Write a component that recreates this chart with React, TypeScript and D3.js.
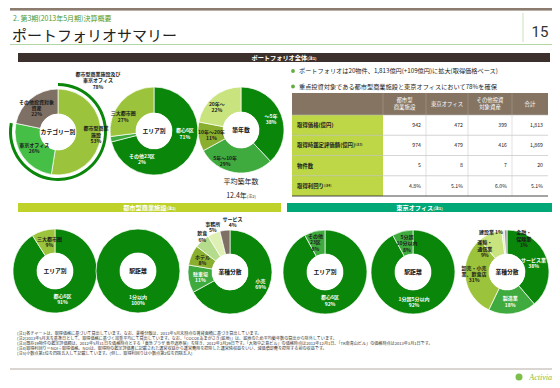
import React from "react";
import * as d3 from "d3";

const FONT = '"Noto Sans CJK JP", "Noto Sans", sans-serif';

// colours
const DARK = "#0a860a";
const MID = "#3fab3f";
const BRIGHT = "#46bf46";
const OLIVE = "#9cc33c";
const OLIVE2 = "#8aae2e";
const PALE = "#c9e37f";
const PALE2 = "#dff0b5";
const BROWN = "#7e7065";

// portfolio overall
const categoryNames = ["都市型商業\n施設", "東京オフィス", "その他投資対象\n資産"];
const categoryShares = [53, 26, 22];
const focusShare = 78;

const areaNames = ["都心6区", "その他23区", "三大都市圏"];
const areaShares = [71, 2, 27];

const ageNames = ["～5年", "5年～10年", "10年～20年", "20年～"];
const ageShares = [38, 29, 11, 22];
const avgAge = "12.4年";

// urban retail
const retailAreaNames = ["都心6区", "三大都市圏"];
const retailAreaShares = [91, 9];
const retailStationNames = ["1分以内"];
const retailStationShares = [100];
const retailTenantNames = ["小売", "駐車場", "ホテル", "飲食", "事務所", "サービス"];
const retailTenantShares = [69, 11, 8, 6, 5, 4];

// tokyo office
const officeAreaNames = ["都心6区", "その他\n23区"];
const officeAreaShares = [92, 8];
const officeStationNames = ["1分超5分以内", "5分超\n10分以内"];
const officeStationShares = [92, 8];
const officeTenantNames = ["サービス業", "製造業", "卸売・小売\n業、飲食店", "運輸・\n通信業", "建設業", "金融・\n保険業"];
const officeTenantShares = [38, 18, 31, 9, 1, 1];

// table
const tableColumns = ["都市型\n商業施設", "東京オフィス", "その他投資\n対象資産", "合計"];
const tableRows = ["取得価格(億円)", "取得時鑑定評価額(億円)", "物件数", "取得利回り"];
const tableNotes = ["", "(注3)", "", "(注4)"];
const acquisitionPrice = ["942", "472", "399", "1,813"];
const appraisalValue = ["974", "479", "416", "1,869"];
const propertyCount = ["5", "8", "7", "20"];
const acquisitionYield = ["4.8%", "5.1%", "6.0%", "5.1%"];
const tableValues = [acquisitionPrice, appraisalValue, propertyCount, acquisitionYield];

const bullets = [
  "ポートフォリオは20物件、1,813億円(+109億円)に拡大(取得価格ベース)",
  "重点投資対象である都市型商業施設と東京オフィスにおいて78%を確保",
];

const footnotes = [
  "(注1)各チャートは、取得価格に基づいて算出しています。なお、業種分散は、2013年5月末時点の賃貸面積に基づき算出しています。",
  "(注2)2013年5月末を基準日として、取得価格に基づく加重平均にて算出しています。なお、「COCOEあまがさき(底地)」は、底地のため平均築年数の算出から除外しています。",
  "(注3)既存19物件の鑑定評価額は、2012年5月31日を価格時点とする「東急プラザ 表参道原宿」を除き、2012年2月29日です。「大阪中之島ビル」の価格時点は2012年12月1日、「TK南青山ビル」の価格時点は2013年3月1日です。",
  "(注4)取得利回り＝NOI÷取得価格。NOIは、取得時の鑑定評価書に記載された運営収益から運営費用を控除した運営純収益をいい、減価償却費を控除する前の収益です。",
  "(注5)小数点第1位を四捨五入して記載しています。(但し、取得利回りは小数点第2位を四捨五入)",
];

type LabelPos = { a?: number; r?: number; inline?: boolean; white?: boolean };

type DonutProps = {
  cx: number;
  cy: number;
  ro: number;
  ri: number;
  names: string[];
  values: number[];
  colors: string[];
  title: string;
  labelR: number;
  pos?: LabelPos[];
  ring?: { share: number; r0: number; r1: number };
};

const Donut = ({ cx, cy, ro, ri, names, values, colors, title, labelR, pos = [], ring }: DonutProps) => {
  const arcs = d3.pie<number>().sort(null).value((d) => d)(values);
  const arc = d3.arc<d3.PieArcDatum<number>>().innerRadius(ri).outerRadius(ro);
  const ringArc = d3.arc();
  const fs = 5;
  return (
    <g transform={`translate(${cx},${cy})`}>
      {ring && (
        <path
          d={ringArc({ innerRadius: ring.r0, outerRadius: ring.r1, startAngle: 0, endAngle: (ring.share / 100) * 2 * Math.PI })!}
          fill={DARK}
        />
      )}
      {arcs.map((d, i) => (
        <path key={i} d={arc(d)!} fill={colors[i]} stroke="#fff" strokeWidth={0.7} />
      ))}
      <circle r={ri} fill="#fff" />
      <text textAnchor="middle" dy="0.35em" fontSize={5.8} fontWeight="bold" fill="#111">
        {title}
      </text>
      {arcs.map((d, i) => {
        const p = pos[i] || {};
        const a = p.a !== undefined ? (p.a * Math.PI) / 180 : (d.startAngle + d.endAngle) / 2;
        const r = p.r ?? labelR;
        const x = r * Math.sin(a);
        const y = -r * Math.cos(a);
        const lines = p.inline ? [`${names[i]}  ${values[i]}%`] : [...names[i].split("\n"), `${values[i]}%`];
        const lh = 6.4;
        const y0 = y - ((lines.length - 1) * lh) / 2;
        return (
          <text key={i} textAnchor="middle" fontSize={fs} fontWeight="bold" fill={p.white ? "#fff" : "#1a1a1a"}>
            {lines.map((l, j) => (
              <tspan key={j} x={x} y={y0 + j * lh} dy="0.35em">
                {l}
              </tspan>
            ))}
          </text>
        );
      })}
    </g>
  );
};

const Table = () => {
  const x0 = 292;
  const colW = [91, 43, 42, 44, 36];
  const edges = d3.cumsum([x0, ...colW]);
  const y = d3.scaleBand<number>().domain(d3.range(tableRows.length)).range([115, 196]);
  return (
    <g fontFamily={FONT}>
      <rect x={x0} y={93} width={d3.sum(colW)} height={22} fill="#857462" />
      {tableColumns.map((c, i) => {
        const lines = c.split("\n");
        const cx = (edges[i + 1] + edges[i + 2]) / 2;
        return (
          <g key={i}>
            <line x1={edges[i + 1]} x2={edges[i + 1]} y1={93} y2={115} stroke="#a89a8c" strokeWidth={0.6} />
            <text textAnchor="middle" fontSize={5.4} fill="#fff">
              {lines.map((l, j) => (
                <tspan key={j} x={cx} y={104 + (j - (lines.length - 1) / 2) * 7} dy="0.35em">
                  {l}
                </tspan>
              ))}
            </text>
          </g>
        );
      })}
      {tableRows.map((r, i) => (
        <g key={i}>
          <rect x={x0} y={y(i)!} width={colW[0]} height={y.bandwidth()} fill="#bdd746" />
          <line x1={x0} x2={edges[5]} y1={y(i)!} y2={y(i)!} stroke="#b8b8b8" strokeWidth={0.6} />
          <text x={x0 + 5} y={y(i)! + y.bandwidth() / 2} dy="0.35em" fontSize={5.4} fontWeight="bold" fill="#222">
            {r}
            {tableNotes[i] && (
              <tspan fontSize={3.2} dy="-1.2">
                {tableNotes[i]}
              </tspan>
            )}
          </text>
          {tableValues[i].map((v, j) => (
            <text key={j} x={edges[j + 2] - 5} y={y(i)! + y.bandwidth() / 2} dy="0.35em" textAnchor="end" fontSize={5.2} fill="#222">
              {v}
            </text>
          ))}
        </g>
      ))}
      {[2, 3, 4].map((k) => (
        <line key={k} x1={edges[k]} x2={edges[k]} y1={115} y2={196} stroke="#cfcfcf" strokeWidth={0.6} />
      ))}
      <line x1={x0} x2={edges[5]} y1={196} y2={196} stroke="#333" strokeWidth={0.9} />
    </g>
  );
};

const SectionBar = ({ x, w, y, color, label }: { x: number; w: number; y: number; color: string; label: string }) => (
  <g>
    <rect x={x} y={y} width={w} height={9} fill={color} />
    <text x={x + w / 2} y={y + 4.8} dy="0.35em" textAnchor="middle" fontSize={6.2} fontWeight="bold" fill="#fff">
      {label}
      <tspan fontSize={4}>(注1)</tspan>
    </text>
  </g>
);

export default function App() {
  return (
    <svg width={560} height={388} style={{ position: "absolute", left: 0, top: 0, background: "#fff" }} fontFamily={FONT}>
      {/* header */}
      <rect x={10} y={8} width={542} height={2.6} fill="#8b7c6f" />
      <text x={13} y={21} fontSize={7} fill="#4f9a2c">
        2. 第3期(2013年5月期)決算概要
      </text>
      <text x={12} y={41} fontSize={15} fill="#222">
        ポートフォリオサマリー
      </text>
      <line x1={10} x2={552} y1={44.5} y2={44.5} stroke="#a9d39a" strokeWidth={0.9} />
      <line x1={523} x2={523} y1={13} y2={42} stroke="#b8dba8" strokeWidth={0.8} />
      <text x={540} y={37} fontSize={15} textAnchor="middle" fill="#333" fontFamily="Roboto, sans-serif">
        15
      </text>

      <SectionBar x={18} w={532} y={53} color="#3b302c" label="ポートフォリオ全体" />

      {/* overall donuts */}
      <text x={98} y={76} textAnchor="middle" fontSize={5} fontWeight="bold" fill="#1a1a1a">
        <tspan x={98}>都市型商業施設及び</tspan>
        <tspan x={98} dy={6.4}>東京オフィス</tspan>
        <tspan x={98} dy={6.4}>{focusShare}%</tspan>
      </text>
      <Donut
        cx={58}
        cy={132}
        ro={43}
        ri={18}
        names={categoryNames}
        values={categoryShares}
        colors={[OLIVE, BRIGHT, BROWN]}
        title="カテゴリー別"
        labelR={31}
        pos={[{ r: 38 }, { r: 29 }, { r: 32, a: 318 }]}
        ring={{ share: focusShare, r0: 46, r1: 49 }}
      />
      <Donut
        cx={154}
        cy={131}
        ro={44}
        ri={18}
        names={areaNames}
        values={areaShares}
        colors={[DARK, MID, OLIVE]}
        title="エリア別"
        labelR={30}
        pos={[{ a: 95, r: 31, white: true }, { a: 203, r: 31, white: true }, { a: 295, r: 34 }]}
      />
      <Donut
        cx={241}
        cy={130}
        ro={43}
        ri={18}
        names={ageNames}
        values={ageShares}
        colors={[DARK, MID, OLIVE2, PALE]}
        title="築年数"
        labelR={30}
        pos={[{ a: 70, r: 32, white: true }, { a: 207, r: 35 }, { a: 260, r: 30 }, { a: 313, r: 33 }]}
      />
      <text x={241} y={184} textAnchor="middle" fontSize={7} fill="#222">
        平均築年数
      </text>
      <text x={241} y={198} textAnchor="middle" fontSize={7} fill="#222">
        {avgAge}
        <tspan fontSize={4}>(注2)</tspan>
      </text>

      {/* bullets + table */}
      {bullets.map((b, i) => (
        <g key={i}>
          <circle cx={293} cy={71 + i * 15.5} r={1.9} fill="#5fae3f" />
          <text x={299} y={71 + i * 15.5} dy="0.35em" fontSize={6.2} fill="#222">
            {b}
          </text>
        </g>
      ))}
      <Table />

      {/* section bars */}
      <SectionBar x={18} w={263} y={203} color="#bfd22a" label="都市型商業施設" />
      <SectionBar x={287} w={265} y={203} color="#00a877" label="東京オフィス" />

      {/* retail donuts */}
      <Donut
        cx={55}
        cy={271}
        ro={42}
        ri={18}
        names={retailAreaNames}
        values={retailAreaShares}
        colors={[DARK, OLIVE]}
        title="エリア別"
        labelR={29}
        pos={[{ a: 165, r: 29, white: true }, { a: 349, r: 29 }]}
      />
      <Donut
        cx={138}
        cy={271}
        ro={42}
        ri={18}
        names={retailStationNames}
        values={retailStationShares}
        colors={[DARK]}
        title="駅距離"
        labelR={28}
        pos={[{ a: 180, r: 29, white: true }]}
      />
      <Donut
        cx={230}
        cy={272}
        ro={42}
        ri={18}
        names={retailTenantNames}
        values={retailTenantShares}
        colors={[DARK, MID, OLIVE2, "#b5db8c", PALE2, BROWN]}
        title="業種分散"
        labelR={30}
        pos={[
          { a: 112, r: 33, white: true },
          { a: 260, r: 30, white: true },
          { a: 293, r: 30 },
          { a: 322, r: 45 },
          { a: 339, r: 48 },
          { a: 3, r: 50 },
        ]}
      />

      {/* office donuts */}
      <Donut
        cx={325}
        cy={272}
        ro={42}
        ri={18}
        names={officeAreaNames}
        values={officeAreaShares}
        colors={[DARK, MID]}
        title="エリア別"
        labelR={29}
        pos={[{ a: 170, r: 29, white: true }, { a: 342, r: 31 }]}
      />
      <Donut
        cx={413}
        cy={272}
        ro={42}
        ri={18}
        names={officeStationNames}
        values={officeStationShares}
        colors={[DARK, MID]}
        title="駅距離"
        labelR={29}
        pos={[{ a: 178, r: 30, white: true }, { a: 348, r: 29 }]}
      />
      <Donut
        cx={507}
        cy={272}
        ro={42}
        ri={18}
        names={officeTenantNames}
        values={officeTenantShares}
        colors={[DARK, MID, OLIVE, PALE, PALE2, "#9a9a9a"]}
        title="業種分散"
        labelR={30}
        pos={[
          { a: 72, r: 28, white: true },
          { a: 174, r: 30, white: true },
          { a: 266, r: 33 },
          { a: 316, r: 32 },
          { a: 338, r: 43, inline: true },
          { a: 27, r: 37 },
        ]}
      />

      {/* footnotes */}
      {footnotes.map((f, i) => (
        <text key={i} x={17} y={335 + i * 5} fontSize={4.1} fill="#333">
          {f}
        </text>
      ))}
      <line x1={10} x2={552} y1={369} y2={369} stroke="#b5aca4" strokeWidth={1} />
      <circle cx={519} cy={377} r={3.5} fill="#7cc04a" />
      <text x={552} y={380} textAnchor="end" fontSize={8} fontStyle="italic" fill="#7cc04a" fontFamily="Liberation Serif, serif">
        Activia
      </text>
    </svg>
  );
}
